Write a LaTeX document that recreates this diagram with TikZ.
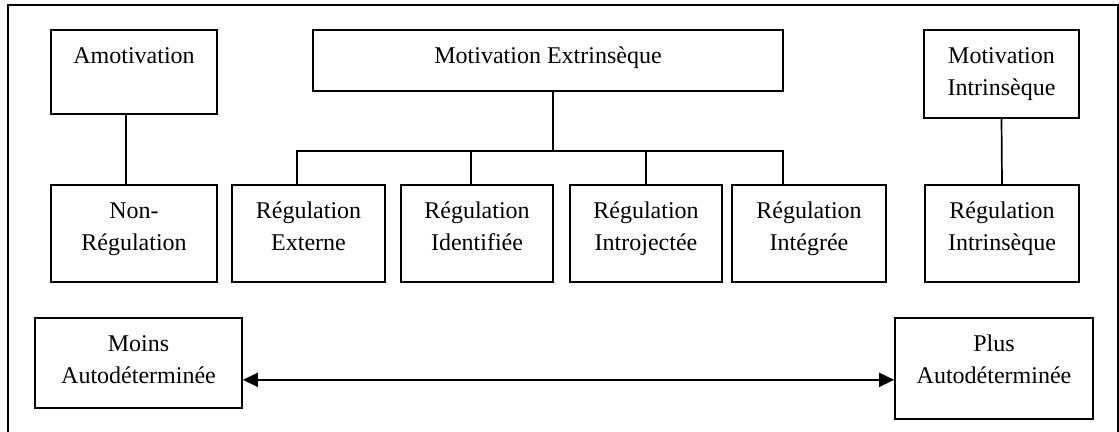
\documentclass[tikz,border=0pt]{standalone}
\usepackage{fontspec}
\setmainfont{Liberation Serif}
\usetikzlibrary{arrows.meta}

\begin{document}
\begin{tikzpicture}[
  x=0.5pt, y=-0.5pt,
  box/.style={draw, line width=0.85pt, anchor=north, align=center, inner sep=0pt,
              text height=17pt, font=\fontsize{12pt}{16pt}\selectfont},
  twolines/.style={text height=33pt},
  link/.style={line width=0.85pt},
  arr/.style={{Triangle[length=7.5pt,width=7pt]}-{Triangle[length=7.5pt,width=7pt]},
              line width=0.85pt},
]
\clip (0,0) rectangle (1119,432);
\draw[link] (8,5) rectangle (1118,460);

% types of motivation
\node[box, minimum width=83pt, text depth=25pt] (amot) at (134,29) {Amotivation};
\node[box, minimum width=235pt, text depth=13.5pt] (extr) at (548,29) {Motivation Extrinsèque};
\node[box, twolines, minimum width=77.5pt, text depth=11pt] (intr) at (1001.5,29) {Motivation\\Intrinsèque};

% types of regulation
\node[box, twolines, minimum width=83pt, text depth=15.5pt] (nonreg) at (134,184) {Non-\\Régulation};
\node[box, twolines, minimum width=76.5pt, text depth=15.5pt] (ext) at (308.5,184) {Régulation\\Externe};
\node[box, twolines, minimum width=76pt, text depth=15.5pt] (ident) at (477,184) {Régulation\\Identifiée};
\node[box, twolines, minimum width=76pt, text depth=15.5pt] (intro) at (646,184) {Régulation\\Introjectée};
\node[box, twolines, minimum width=77pt, text depth=15.5pt] (integ) at (809,184) {Régulation\\Intégrée};
\node[box, twolines, minimum width=77pt, text depth=15.5pt] (intreg) at (1002,184) {Régulation\\Intrinsèque};

% continuum
\node[box, twolines, minimum width=103.5pt, text depth=12pt] (moins) at (138.5,317) {Moins\\Autodéterminée};
\node[box, twolines, minimum width=99pt, text depth=17.5pt] (plus) at (994,317) {Plus\\Autodéterminée};

% links
\draw[link] ([xshift=-4pt]amot.south) -- ([xshift=-4pt]nonreg.north);
\draw[link] (intr.south) -- (intreg.north);
\coordinate (fork) at (553,151);
\draw[link] (extr.south -| fork) -- (fork);
\draw[link] (ext.north -| 297,0) |- (fork) -| (integ.north -| 783,0);
\draw[link] (ident.north -| 471,0) -- (fork -| 471,0);
\draw[link] (intro.north) -- (fork -| intro.north);
\draw[arr] ([yshift=-8.5pt]moins.east) -- ([yshift=-8.5pt]moins.east -| plus.west);
\end{tikzpicture}
\end{document}
